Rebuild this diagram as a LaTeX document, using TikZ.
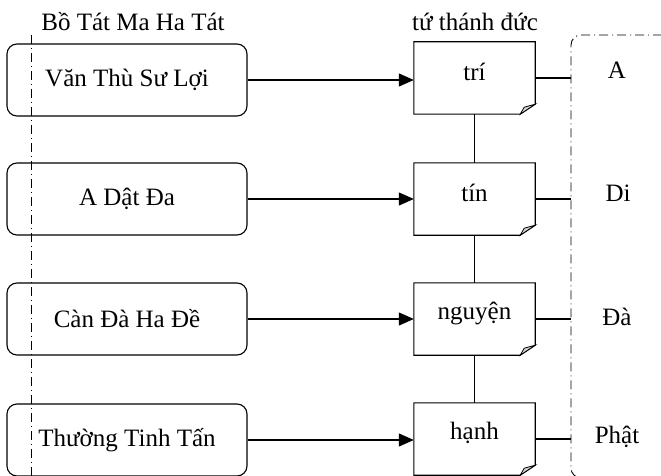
\documentclass[tikz,border=0pt]{standalone}
\usepackage{fontspec}
\setmainfont{Liberation Serif}
\usetikzlibrary{arrows.meta}
\begin{document}
\begin{tikzpicture}[x=1pt,y=-1pt,
  every node/.style={font=\fontsize{25}{29}\selectfont},
  leftbox/.style={draw, line width=1.1pt, rounded corners=10pt, minimum width=240pt, minimum height=72pt, inner sep=0pt},
  docbox/.style={draw=none, minimum width=121pt, minimum height=72pt, inner sep=0pt},
  docline/.style={line width=1.1pt, line join=miter},
  conn/.style={line width=1.1pt},
  arr/.style={line width=1.1pt, -{Triangle[length=15pt,width=13pt]}},
  dashdotline/.style={line width=0.9pt, dash pattern=on 9pt off 4pt on 1pt off 4pt},
  txt/.style={inner sep=0pt}
]
\useasboundingbox (0,0) rectangle (661,476);

% titles
\node[txt] (t1) at (133,22) {Bồ Tát Ma Ha Tát};
\node[txt] (t2) at (475,22) {tứ thánh đức};

% left boxes
\node[leftbox] (b1) at (127,80) {Văn Thù Sư Lợi};
\node[leftbox] (b2) at (127,199) {A Dật Đa};
\node[leftbox] (b3) at (127,319) {Càn Đà Ha Đề};
\node[leftbox] (b4) at (127,440) {Thường Tinh Tấn};

% document boxes
\foreach \n/\y/\t in {d1/78/trí, d2/199/tín, d3/319/nguyện, d4/439/hạnh}{
  \node[docbox] (\n) at (474.5,\y) {};
  \draw[docline] (\n.north west) -- (\n.north east) -- ([yshift=10pt]\n.south east)
     -- ([xshift=-15pt]\n.south east) -- (\n.south west) -- cycle;
  \filldraw[line width=0.8pt, fill=gray!35] ([xshift=-15pt]\n.south east)
     -- ([xshift=-11pt,yshift=7pt]\n.south east) -- ([yshift=10pt]\n.south east) -- cycle;
  \node[txt] at ([yshift=6pt]\n.center) {\t};
}

% arrows
\foreach \i in {1,2,3,4}{
  \draw[arr] (b\i.east) -- (b\i.east -| d\i.west);
}

% vertical links
\draw[conn] (d1.south) -- (d2.north);
\draw[conn] (d2.south) -- (d3.north);
\draw[conn] (d3.south) -- (d4.north);

% bracket
\coordinate (brtl) at (571,35);
\draw[dashdotline, rounded corners=10pt] (680,35) -- (brtl) -- (571,478) -- (680,478);

\foreach \i in {1,2,3,4}{
  \draw[conn] (d\i.east) -- (d\i.east -| brtl);
}

% right labels
\node[txt] (r1) at (617,70) {A};
\node[txt] (r2) at (618,193) {Di};
\node[txt] (r3) at (617,317) {Đà};
\node[txt] (r4) at (617,437) {Phật};

% left dash-dot line
\coordinate (ltop) at (31,35);
\coordinate (lbot) at (31,478);
\draw[dashdotline] (ltop) -- (lbot);
\end{tikzpicture}
\end{document}
